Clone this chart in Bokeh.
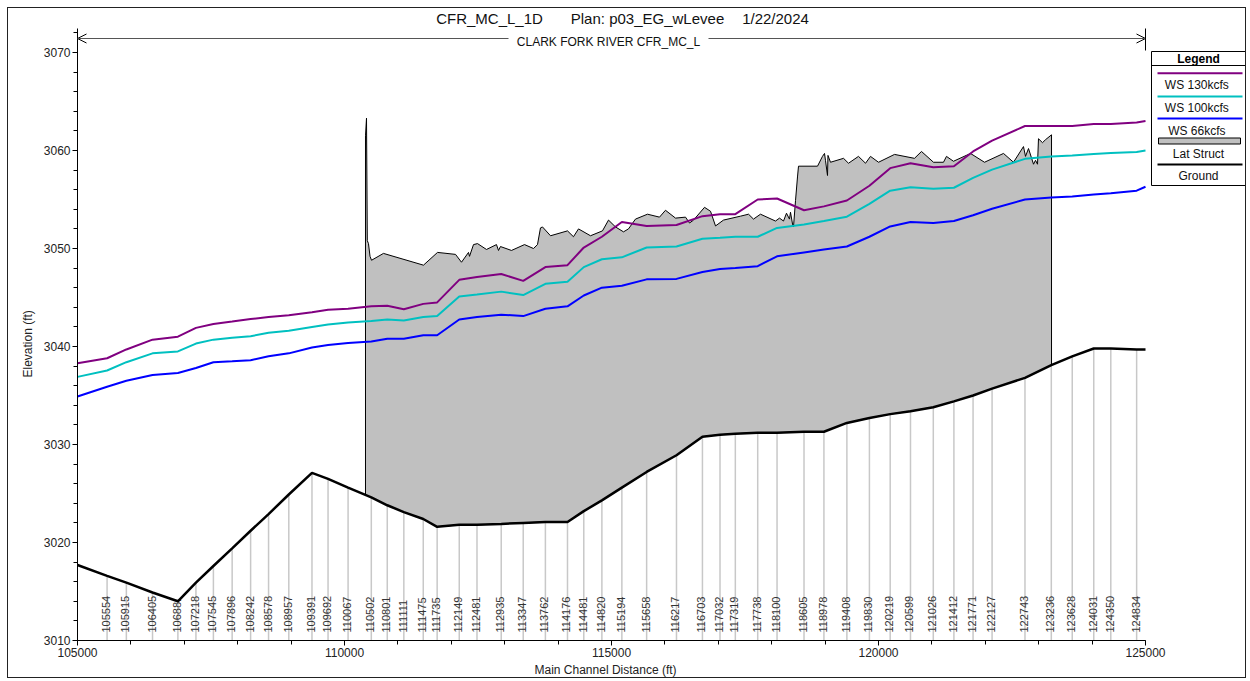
import numpy as np
from bokeh.plotting import figure
from bokeh.models import (Range1d, SingleIntervalTicker, PrintfTickFormatter,
                          Arrow, OpenHead, Title)
from bokeh.core.properties import value
from bokeh.embed import file_html
from bokeh.resources import INLINE

FONT = "Liberation Sans"

# ---------------- data ----------------
stations = [105000, 105554, 105915, 106405, 106880, 107218, 107545, 107896, 108242,
            108578, 108957, 109391, 109692, 110067, 110502, 110801, 111111, 111475,
            111735, 112149, 112481, 112935, 113347, 113762, 114176, 114481, 114820,
            115194, 115658, 116217, 116703, 117032, 117319, 117738, 118100, 118605,
            118978, 119408, 119830, 120219, 120599, 121026, 121412, 121771, 122127,
            122743, 123236, 123628, 124031, 124350, 124834, 125000]

station_labels = ["", "105554", "105915", "106405", "10688:", "107218", "107545", "107896",
                  "108242", "108578", "108957", "109391", "109692", "110067", "110502",
                  "110801", "111111", "111475", "111735", "112149", "112481", "112935",
                  "113347", "113762", "114176", "114481", "114820", "115194", "115658",
                  "116217", "116703", "117032", "117319", "117738", "118100", "118605",
                  "118978", "119408", "119830", "120219", "120599", "121026", "121412",
                  "121771", "122127", "122743", "123236", "123628", "124031", "124350",
                  "124834", ""]

ground = [3017.7, 3016.6, 3015.9, 3014.9, 3014.0, 3015.9, 3017.6, 3019.4, 3021.2,
          3022.9, 3024.9, 3027.1, 3026.5, 3025.6, 3024.6, 3023.8, 3023.1, 3022.4,
          3021.6, 3021.8, 3021.8, 3021.9, 3022.0, 3022.1, 3022.1, 3023.2, 3024.3,
          3025.6, 3027.2, 3028.9, 3030.8, 3031.0, 3031.1, 3031.2, 3031.2, 3031.3,
          3031.3, 3032.2, 3032.7, 3033.1, 3033.4, 3033.8, 3034.4, 3035.0, 3035.7,
          3036.8, 3038.1, 3039.0, 3039.8, 3039.8, 3039.7, 3039.7]

ws_130kcfs = [3038.3, 3038.8, 3039.7, 3040.7, 3041.0, 3041.9, 3042.3, 3042.55, 3042.8,
              3043.0, 3043.2, 3043.5, 3043.75, 3043.85, 3044.1, 3044.15, 3043.8, 3044.35,
              3044.5, 3046.8, 3047.1, 3047.4, 3046.7, 3048.1, 3048.3, 3050.1, 3051.2,
              3052.7, 3052.3, 3052.4, 3053.3, 3053.5, 3053.5, 3055.0, 3055.1, 3053.9,
              3054.3, 3054.9, 3056.4, 3058.2, 3058.7, 3058.3, 3058.4, 3059.9, 3061.0,
              3062.5, 3062.5, 3062.5, 3062.7, 3062.7, 3062.85, 3063.0]

ws_100kcfs = [3036.9, 3037.55, 3038.4, 3039.3, 3039.5, 3040.3, 3040.7, 3040.9, 3041.05,
              3041.4, 3041.6, 3042.0, 3042.25, 3042.45, 3042.6, 3042.75, 3042.65, 3043.0,
              3043.1, 3045.1, 3045.3, 3045.6, 3045.25, 3046.4, 3046.6, 3048.1, 3048.9,
              3049.1, 3050.1, 3050.2, 3051.0, 3051.1, 3051.2, 3051.2, 3052.1, 3052.45,
              3052.8, 3053.25, 3054.55, 3055.9, 3056.25, 3056.1, 3056.2, 3057.2, 3058.05,
              3059.15, 3059.4, 3059.5, 3059.65, 3059.75, 3059.85, 3060.0]

ws_66kcfs = [3034.9, 3035.9, 3036.5, 3037.1, 3037.3, 3037.8, 3038.4, 3038.5, 3038.6,
             3039.0, 3039.3, 3039.9, 3040.15, 3040.35, 3040.5, 3040.8, 3040.8, 3041.15,
             3041.15, 3042.75, 3043.0, 3043.25, 3043.1, 3043.85, 3044.1, 3045.2, 3046.0,
             3046.2, 3046.85, 3046.9, 3047.6, 3047.9, 3048.0, 3048.2, 3049.2, 3049.6,
             3049.9, 3050.2, 3051.2, 3052.25, 3052.7, 3052.6, 3052.8, 3053.4, 3054.05,
             3055.0, 3055.2, 3055.3, 3055.5, 3055.65, 3055.9, 3056.3]

lat_struct_x = [110393, 110412, 110427, 110449, 110478, 110506, 110730, 111479, 111742,
                112079, 112191, 112322, 112341, 112416, 112491, 112659, 112846, 112884,
                112921, 113127, 113371, 113539, 113614, 113670, 113708, 113858, 114176,
                114288, 114382, 114607, 114831, 114944, 115075, 115225, 115318, 115449,
                115674, 115899, 116011, 116199, 116386, 116461, 116536, 116742, 116854,
                116948, 117097, 117416, 117566, 117659, 117790, 118071, 118146, 118221,
                118277, 118333, 118352, 118390, 118408, 118446, 118483, 118502, 118858,
                118951, 118989, 119007, 119045, 119054, 119101, 119345, 119438, 119625,
                119757, 119850, 120000, 120300, 120674, 120805, 121030, 121217, 121273,
                121404, 121723, 121985, 122341, 122528, 122715, 122753, 122809, 122903,
                122940, 122978, 122996, 123071, 123127, 123240]

lat_struct_top = [3061.5, 3063.3, 3050.8, 3050.5, 3049.2, 3048.8, 3049.5, 3048.3, 3049.6,
                  3049.4, 3048.6, 3049.6, 3049.2, 3050.4, 3050.5, 3049.9, 3050.4, 3049.8,
                  3050.2, 3049.8, 3050.4, 3050.0, 3050.4, 3052.1, 3052.2, 3051.3, 3051.8,
                  3051.2, 3052.0, 3051.3, 3051.8, 3052.9, 3052.2, 3051.7, 3052.0, 3053.0,
                  3053.5, 3053.2, 3053.9, 3053.1, 3053.2, 3052.6, 3052.9, 3054.2, 3053.8,
                  3052.3, 3052.9, 3053.3, 3053.5, 3053.0, 3053.5, 3052.8, 3053.1, 3052.8,
                  3053.6, 3053.0, 3053.7, 3052.5, 3052.2, 3054.9, 3057.3, 3058.4, 3058.4,
                  3059.4, 3059.7, 3059.0, 3057.45, 3059.5, 3058.8, 3059.2, 3058.7, 3059.4,
                  3058.7, 3059.4, 3058.8, 3059.6, 3059.2, 3059.9, 3058.8, 3058.8, 3059.4,
                  3058.9, 3059.7, 3058.8, 3059.7, 3058.8, 3060.4, 3059.4, 3060.2, 3058.6,
                  3059.0, 3058.6, 3061.2, 3060.8, 3061.1, 3061.6]

series_names = ["WS  130kcfs", "WS  100kcfs", "WS  66kcfs"]
series_colors = ["#800080", "#00C0C0", "#0000FF"]
series_values = [ws_130kcfs, ws_100kcfs, ws_66kcfs]

title_parts = ["CFR_MC_L_1D", "Plan: p03_EG_wLevee", "1/22/2024"]
river_label = "CLARK FORK RIVER CFR_MC_L"


# -------- layout helpers: reference pixel -> data coordinate --------
def rx(px):
    return 105000 + (px - 77) / (1068 / 20000)


def ry(py):
    return 3010 + (640 - py) / 9.8


p = figure(width=1239, height=671, output_backend="svg", toolbar_location=None, title=None,
           x_range=Range1d(105000, rx(1246)), y_range=Range1d(3010, ry(8)),
           min_border_left=69, min_border_right=1, min_border_top=0, min_border_bottom=39,
           styles={"border": "1px solid #222222", "margin-left": "7px", "margin-top": "7px"})
p.grid.visible = False
p.outline_line_color = None
p.background_fill_color = "white"
p.border_fill_color = "white"

xa = p.xaxis[0]
xa.ticker = SingleIntervalTicker(interval=5000, num_minor_ticks=5)
xa.formatter = PrintfTickFormatter(format="%d")
xa.bounds = (105000, 125000)
ya = p.yaxis[0]
ya.ticker = SingleIntervalTicker(interval=10, num_minor_ticks=5)
ya.formatter = PrintfTickFormatter(format="%d")
ya.bounds = (3010, 3072.4)
for ax in (xa, ya):
    ax.axis_line_color = "black"
    ax.axis_line_width = 1
    ax.major_tick_line_color = "black"
    ax.minor_tick_line_color = "black"
    ax.major_tick_in = 0
    ax.major_tick_out = 5
    ax.minor_tick_in = 0
    ax.minor_tick_out = 4
    ax.major_label_text_font = FONT
    ax.major_label_text_font_size = "12px"
    ax.major_label_text_color = "#222222"
xa.major_label_standoff = 2
ya.major_label_standoff = 2

p.add_layout(Title(text="Main Channel Distance (ft)", align="left", offset=457,
                   text_font=FONT, text_font_size="12px", text_font_style="normal",
                   text_color="#222222", standoff=3), "below")
p.add_layout(Title(text="Elevation (ft)", align="left", offset=263,
                   text_font=FONT, text_font_size="12px", text_font_style="normal",
                   text_color="#222222", standoff=12), "left")

# station lines and labels
lab_x = [s for s, l in zip(stations, station_labels) if l]
lab_g = [g for g, l in zip(ground, station_labels) if l]
lab_t = [l for l in station_labels if l]
p.segment(x0=lab_x, y0=[3010] * len(lab_x), x1=lab_x, y1=lab_g,
          line_color="#C8C8C8", line_width=1.5)
p.text(x=lab_x, y=[ry(632)] * len(lab_x), text=lab_t, angle=np.pi / 2,
       text_align="left", text_baseline="alphabetic", x_offset=-1,
       text_font=value(FONT), text_font_size="11px", text_color="#333333")

# lateral structure polygon (top profile + ground beneath)
x0, x1 = lat_struct_x[0], lat_struct_x[-1]
inner = [s for s in stations if x0 < s < x1]
bottom_x = [x1] + inner[::-1] + [x0]
bottom_y = list(np.interp(bottom_x, stations, ground))
p.patch(x=lat_struct_x + bottom_x, y=lat_struct_top + bottom_y,
        fill_color="#C0C0C0", line_color="black", line_width=1)

# ground
p.line(stations, ground, line_color="black", line_width=2.5)

# water surfaces
for vals, col in zip(series_values, series_colors):
    p.line(stations, vals, line_color=col, line_width=2)

# river reach arrow and titles
p.add_layout(Arrow(start=OpenHead(size=9, line_color="black", line_width=1), end=None,
                   x_start=rx(77), y_start=ry(38), x_end=rx(508), y_end=ry(38),
                   line_color="#555555", line_width=1.2))
p.add_layout(Arrow(start=OpenHead(size=9, line_color="black", line_width=1), end=None,
                   x_start=rx(1145), y_start=ry(38), x_end=rx(708), y_end=ry(38),
                   line_color="#555555", line_width=1.2))
p.segment(x0=[rx(1145)], y0=[ry(28)], x1=[rx(1145)], y1=[ry(50)],
          line_color="black", line_width=1)
p.text(x=[rx(608)], y=[ry(41)], text=[river_label], text_align="center",
       text_baseline="middle", text_font=value(FONT), text_font_size="12px",
       text_color="#111111")
p.text(x=[rx(489), rx(647), rx(775)], y=[ry(18)] * 3, text=title_parts,
       text_align="center", text_baseline="middle", text_font=value(FONT),
       text_font_size="15px", text_color="#111111")

# legend box
lx0, lx1, lxc = rx(1151), rx(1246), rx(1198)
p.quad(left=[lx0], right=[lx1], top=[ry(51)], bottom=[ry(185)],
       fill_color="white", line_color="black", line_width=1)
p.segment(x0=[lx0], y0=[ry(65)], x1=[lx1], y1=[ry(65)], line_color="black", line_width=1)
p.text(x=[lxc], y=[ry(58)], text=["Legend"], text_align="center", text_baseline="middle",
       text_font=value(FONT), text_font_size="12px", text_font_style="bold",
       text_color="black")
sample_y = [ry(72.7), ry(96), ry(118)]
text_y = [ry(84), ry(107), ry(130)]
p.segment(x0=[rx(1157)] * 3, y0=sample_y, x1=[rx(1242)] * 3, y1=sample_y,
          line_color=series_colors, line_width=2)
p.text(x=[lxc] * 3, y=text_y, text=series_names, text_align="center",
       text_baseline="middle", text_font=value(FONT), text_font_size="12px",
       text_color="#111111")
p.quad(left=[rx(1158)], right=[rx(1240)], top=[ry(137.5)], bottom=[ry(143.5)],
       fill_color="#C0C0C0", line_color="black", line_width=1)
p.text(x=[lxc], y=[ry(153)], text=["Lat Struct"], text_align="center",
       text_baseline="middle", text_font=value(FONT), text_font_size="12px",
       text_color="#111111")
p.segment(x0=[rx(1157)], y0=[ry(164)], x1=[rx(1242)], y1=[ry(164)],
          line_color="black", line_width=2)
p.text(x=[lxc], y=[ry(175)], text=["Ground"], text_align="center",
       text_baseline="middle", text_font=value(FONT), text_font_size="12px",
       text_color="#111111")

open("out.html", "w").write(file_html(p, INLINE))
